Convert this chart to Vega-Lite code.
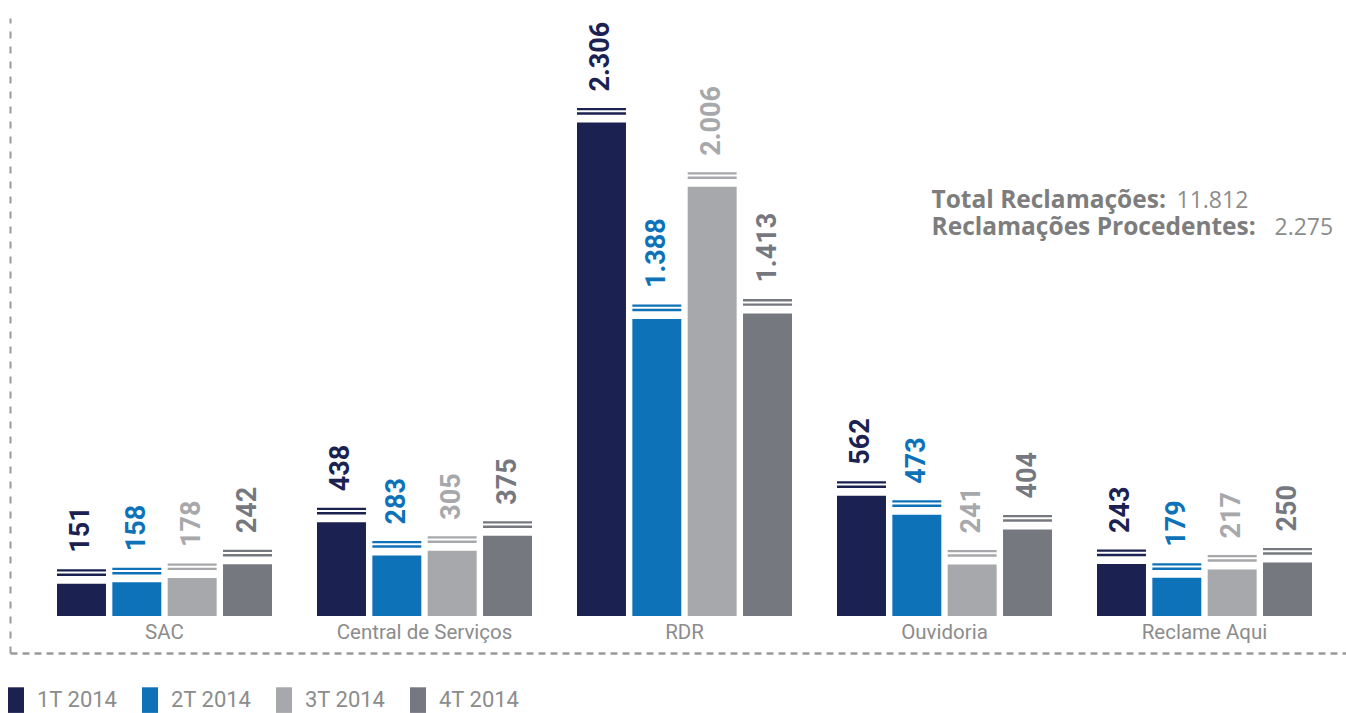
{
  "$schema": "https://vega.github.io/schema/vega-lite/v6.json",
  "width": 1336,
  "height": 635,
  "autosize": {"type": "none"},
  "padding": {"left": 10, "top": 18, "right": 0, "bottom": 60},
  "background": "white",
  "config": {
    "view": {"stroke": null},
    "locale": {"number": {"decimal": ",", "thousands": ".", "grouping": [3], "currency": ["R$", ""]}},
    "axis": {"labels": false, "ticks": false, "grid": false, "domainColor": "#9a9a9a"},
    "axisX": {"domainDash": [7, 5], "domainWidth": 2.5},
    "axisY": {"domainDash": [7, 8], "domainWidth": 2}
  },
  "datasets": {
    "reclamacoes": [
      {"canal": "SAC", "trimestre": "1T 2014", "quantidade": 151},
      {"canal": "SAC", "trimestre": "2T 2014", "quantidade": 158},
      {"canal": "SAC", "trimestre": "3T 2014", "quantidade": 178},
      {"canal": "SAC", "trimestre": "4T 2014", "quantidade": 242},
      {"canal": "Central de Serviços", "trimestre": "1T 2014", "quantidade": 438},
      {"canal": "Central de Serviços", "trimestre": "2T 2014", "quantidade": 283},
      {"canal": "Central de Serviços", "trimestre": "3T 2014", "quantidade": 305},
      {"canal": "Central de Serviços", "trimestre": "4T 2014", "quantidade": 375},
      {"canal": "RDR", "trimestre": "1T 2014", "quantidade": 2306},
      {"canal": "RDR", "trimestre": "2T 2014", "quantidade": 1388},
      {"canal": "RDR", "trimestre": "3T 2014", "quantidade": 2006},
      {"canal": "RDR", "trimestre": "4T 2014", "quantidade": 1413},
      {"canal": "Ouvidoria", "trimestre": "1T 2014", "quantidade": 562},
      {"canal": "Ouvidoria", "trimestre": "2T 2014", "quantidade": 473},
      {"canal": "Ouvidoria", "trimestre": "3T 2014", "quantidade": 241},
      {"canal": "Ouvidoria", "trimestre": "4T 2014", "quantidade": 404},
      {"canal": "Reclame Aqui", "trimestre": "1T 2014", "quantidade": 243},
      {"canal": "Reclame Aqui", "trimestre": "2T 2014", "quantidade": 179},
      {"canal": "Reclame Aqui", "trimestre": "3T 2014", "quantidade": 217},
      {"canal": "Reclame Aqui", "trimestre": "4T 2014", "quantidade": 250}
    ],
    "totais": [
      {"ordem": 1, "rotulo": "Total Reclamações:", "valor": "11.812"},
      {"ordem": 2, "rotulo": "Reclamações Procedentes:", "valor": "2.275"}
    ]
  },
  "layer": [
    {
      "data": {"name": "reclamacoes"},
      "encoding": {
        "x": {"field": "canal", "type": "nominal", "title": null,
          "sort": ["SAC", "Central de Serviços", "RDR", "Ouvidoria", "Reclame Aqui"],
          "scale": {"paddingInner": 0.17308, "paddingOuter": 0.15577, "align": 0.5802}},
        "xOffset": {"field": "trimestre", "type": "nominal",
          "sort": ["1T 2014", "2T 2014", "3T 2014", "4T 2014"],
          "scale": {"paddingInner": 0.115, "paddingOuter": 0}},
        "y": {"field": "quantidade", "type": "quantitative", "title": null,
          "scale": {"domain": [-172.9, 2794.4], "nice": false, "zero": false}},
        "color": {"field": "trimestre", "type": "nominal",
          "scale": {"domain": ["1T 2014", "2T 2014", "3T 2014", "4T 2014"], "range": ["#1b2150", "#0e72b9", "#a7a8ab", "#76787f"]},
          "legend": {"orient": "none", "legendX": -5, "legendY": 671, "direction": "horizontal", "title": null,
            "symbolType": "M-1,-1.6H1V1.6H-1Z", "symbolSize": 256, "symbolStrokeWidth": 0, "symbolOpacity": 1,
            "labelFont": "Roboto", "labelFontSize": 22, "labelColor": "#8c8c8c",
            "labelOffset": 10, "columnPadding": 21, "padding": 0}}
      },
      "layer": [
        {"mark": {"type": "bar", "opacity": 1}, "encoding": {"y2": {"datum": 0}}},
        {"mark": {"type": "bar", "opacity": 1, "yOffset": -14.5, "y2Offset": -12.2}, "encoding": {"y2": {"field": "quantidade"}}},
        {"mark": {"type": "bar", "opacity": 1, "yOffset": -10.2, "y2Offset": -7.8}, "encoding": {"y2": {"field": "quantidade"}}},
        {"mark": {"type": "text", "angle": 270, "align": "left", "baseline": "middle", "font": "Roboto", "fontWeight": "bold", "fontSize": 27, "yOffset": -31},
          "encoding": {"text": {"field": "quantidade", "type": "quantitative", "format": ",d"}}}
      ]
    },
    {
      "data": {"name": "reclamacoes"},
      "transform": [{"aggregate": [{"op": "count", "as": "n"}], "groupby": ["canal"]}],
      "mark": {"type": "text", "font": "Roboto", "fontSize": 20.5, "color": "#8c8c8c", "baseline": "alphabetic", "yOffset": 23.5},
      "encoding": {
        "x": {"field": "canal", "type": "nominal", "title": null, "sort": ["SAC", "Central de Serviços", "RDR", "Ouvidoria", "Reclame Aqui"]},
        "y": {"datum": 0, "type": "quantitative", "title": null},
        "text": {"field": "canal"}
      }
    },
    {
      "data": {"name": "totais"},
      "transform": [{"filter": "datum.ordem == 1"}],
      "mark": {"type": "text", "font": "Open Sans", "fontWeight": "bold", "fontSize": 24.5, "color": "#7d7d7d", "align": "left", "baseline": "alphabetic", "dx": -13},
      "encoding": {"x": {"datum": "Ouvidoria"}, "y": {"datum": 1905, "type": "quantitative"}, "text": {"field": "rotulo"}}
    },
    {
      "data": {"name": "totais"},
      "transform": [{"filter": "datum.ordem == 1"}],
      "mark": {"type": "text", "font": "Open Sans", "fontSize": 23, "color": "#8c8c8c", "align": "left", "baseline": "alphabetic", "dx": 232},
      "encoding": {"x": {"datum": "Ouvidoria"}, "y": {"datum": 1905, "type": "quantitative"}, "text": {"field": "valor"}}
    },
    {
      "data": {"name": "totais"},
      "transform": [{"filter": "datum.ordem == 2"}],
      "mark": {"type": "text", "font": "Open Sans", "fontWeight": "bold", "fontSize": 24.5, "color": "#7d7d7d", "align": "left", "baseline": "alphabetic", "dx": -13, "dy": 27},
      "encoding": {"x": {"datum": "Ouvidoria"}, "y": {"datum": 1905, "type": "quantitative"}, "text": {"field": "rotulo"}}
    },
    {
      "data": {"name": "totais"},
      "transform": [{"filter": "datum.ordem == 2"}],
      "mark": {"type": "text", "font": "Open Sans", "fontSize": 23, "color": "#8c8c8c", "align": "left", "baseline": "alphabetic", "dx": 330, "dy": 27},
      "encoding": {"x": {"datum": "Ouvidoria"}, "y": {"datum": 1905, "type": "quantitative"}, "text": {"field": "valor"}}
    }
  ]
}
